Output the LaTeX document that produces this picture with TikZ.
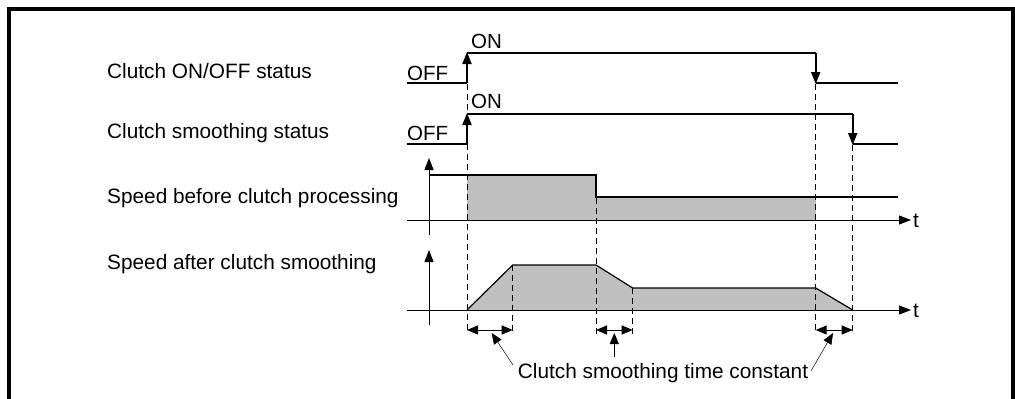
\documentclass[tikz,border=0pt]{standalone}
\usepackage{fontspec}
\setmainfont{Liberation Sans}
\usetikzlibrary{arrows.meta}
\definecolor{fillg}{HTML}{C0C0C0}
\begin{document}
\begin{tikzpicture}[x=1pt,y=-1pt,
  sig/.style={line width=1.8pt},
  axis/.style={line width=1pt},
  guide/.style={line width=0.9pt, dash pattern=on 6pt off 4pt},
  tip/.style={-{Triangle[width=9pt,length=12pt]}},
  dim/.style={line width=1pt,{Triangle[width=9pt,length=11pt]}-{Triangle[width=9pt,length=11pt]}},
  ptr/.style={line width=0.5pt, -{Triangle[width=9pt,length=11pt]}},
  lbl/.style={font=\fontsize{20.8}{24}\selectfont, anchor=base west, inner sep=0pt},
  st/.style={font=\fontsize{20.5}{24}\selectfont, anchor=base west, inner sep=0pt},
]
\useasboundingbox (0,0) rectangle (1015,399);
\draw[line width=3.5pt] (9,420) -- (9,9) -- (1013,9) -- (1013,420);

% labels
\node[lbl] (l1) at (107,78) {Clutch ON/OFF status};
\node[lbl] (l2) at (107,138) {Clutch smoothing status};
\node[lbl] (l3) at (107,203) {Speed before clutch processing};
\node[lbl] (l4) at (107,269) {Speed after clutch smoothing};

% fills
\fill[fillg] (467,175) rectangle (596,220);
\fill[fillg] (596,197) rectangle (815.7,220);
\fill[fillg] (467,310) -- (512.7,265) -- (596,265) -- (632.7,288) -- (815.7,288) -- (852.7,310) -- cycle;

% guides
\draw[guide] (467,84) -- (467,334);
\draw[guide] (815.7,84) -- (815.7,334);
\draw[guide] (852.7,145) -- (852.7,334);
\draw[guide] (596,198) -- (596,334);
\draw[guide] (512.7,265) -- (512.7,334);
\draw[guide] (632.7,288) -- (632.7,334);

% clutch ON/OFF
\node[st] (off1) at (407,80) {OFF};
\node[st] (on1) at (471,48) {ON};
\draw[sig] (407,83) -- (467,83);
\draw[sig,tip] (467,83) -- (467,52);
\draw[sig] (467,53) -- (815.7,53);
\draw[sig,tip] (815.7,53) -- (815.7,84);
\draw[sig] (815.7,83) -- (898,83);

% clutch smoothing status
\node[st] (off2) at (407,140) {OFF};
\node[st] (on2) at (471,108) {ON};
\draw[sig] (407,144) -- (467,144);
\draw[sig,tip] (467,144) -- (467,113);
\draw[sig] (467,114) -- (852.7,114);
\draw[sig,tip] (852.7,114) -- (852.7,145);
\draw[sig] (852.7,144) -- (898,144);

% speed before
\draw[axis,tip] (407,220) -- (911,220);
\node[lbl, anchor=west] (t1) at (913,221) {t};
\draw[axis,tip] (429,235) -- (429,158);
\draw[sig] (429,175) -- (596,175) -- (596,197) -- (898,197);

% speed after
\draw[axis,tip] (407,310) -- (911,310);
\node[lbl, anchor=west] (t2) at (913,311) {t};
\draw[axis,tip] (429,325) -- (429,250);
\draw[line width=1.2pt] (467,310) -- (512.7,265) -- (596,265) -- (632.7,288) -- (815.7,288) -- (852.7,310);

% time constant dimensions
\coordinate (a1) at (467,330); \coordinate (b1) at (512.7,330);
\coordinate (a2) at (596,330); \coordinate (b2) at (632.7,330);
\coordinate (a3) at (815.7,330); \coordinate (b3) at (852.7,330);
\draw[dim] (a1) -- (b1);
\draw[dim] (a2) -- (b2);
\draw[dim] (a3) -- (b3);

\node[font=\fontsize{20.8}{24}\selectfont, anchor=base, inner sep=0pt] (tc) at (663,378) {Clutch smoothing time constant};
\coordinate (p1) at (491.7,333);
\coordinate (p2) at (614.3,333);
\coordinate (p3) at (833,333);
\draw[ptr] (513,365) -- (p1);
\draw[ptr, line width=1pt] (614.3,357) -- (p2);
\draw[ptr] (811,371) -- (p3);
\end{tikzpicture}
\end{document}
